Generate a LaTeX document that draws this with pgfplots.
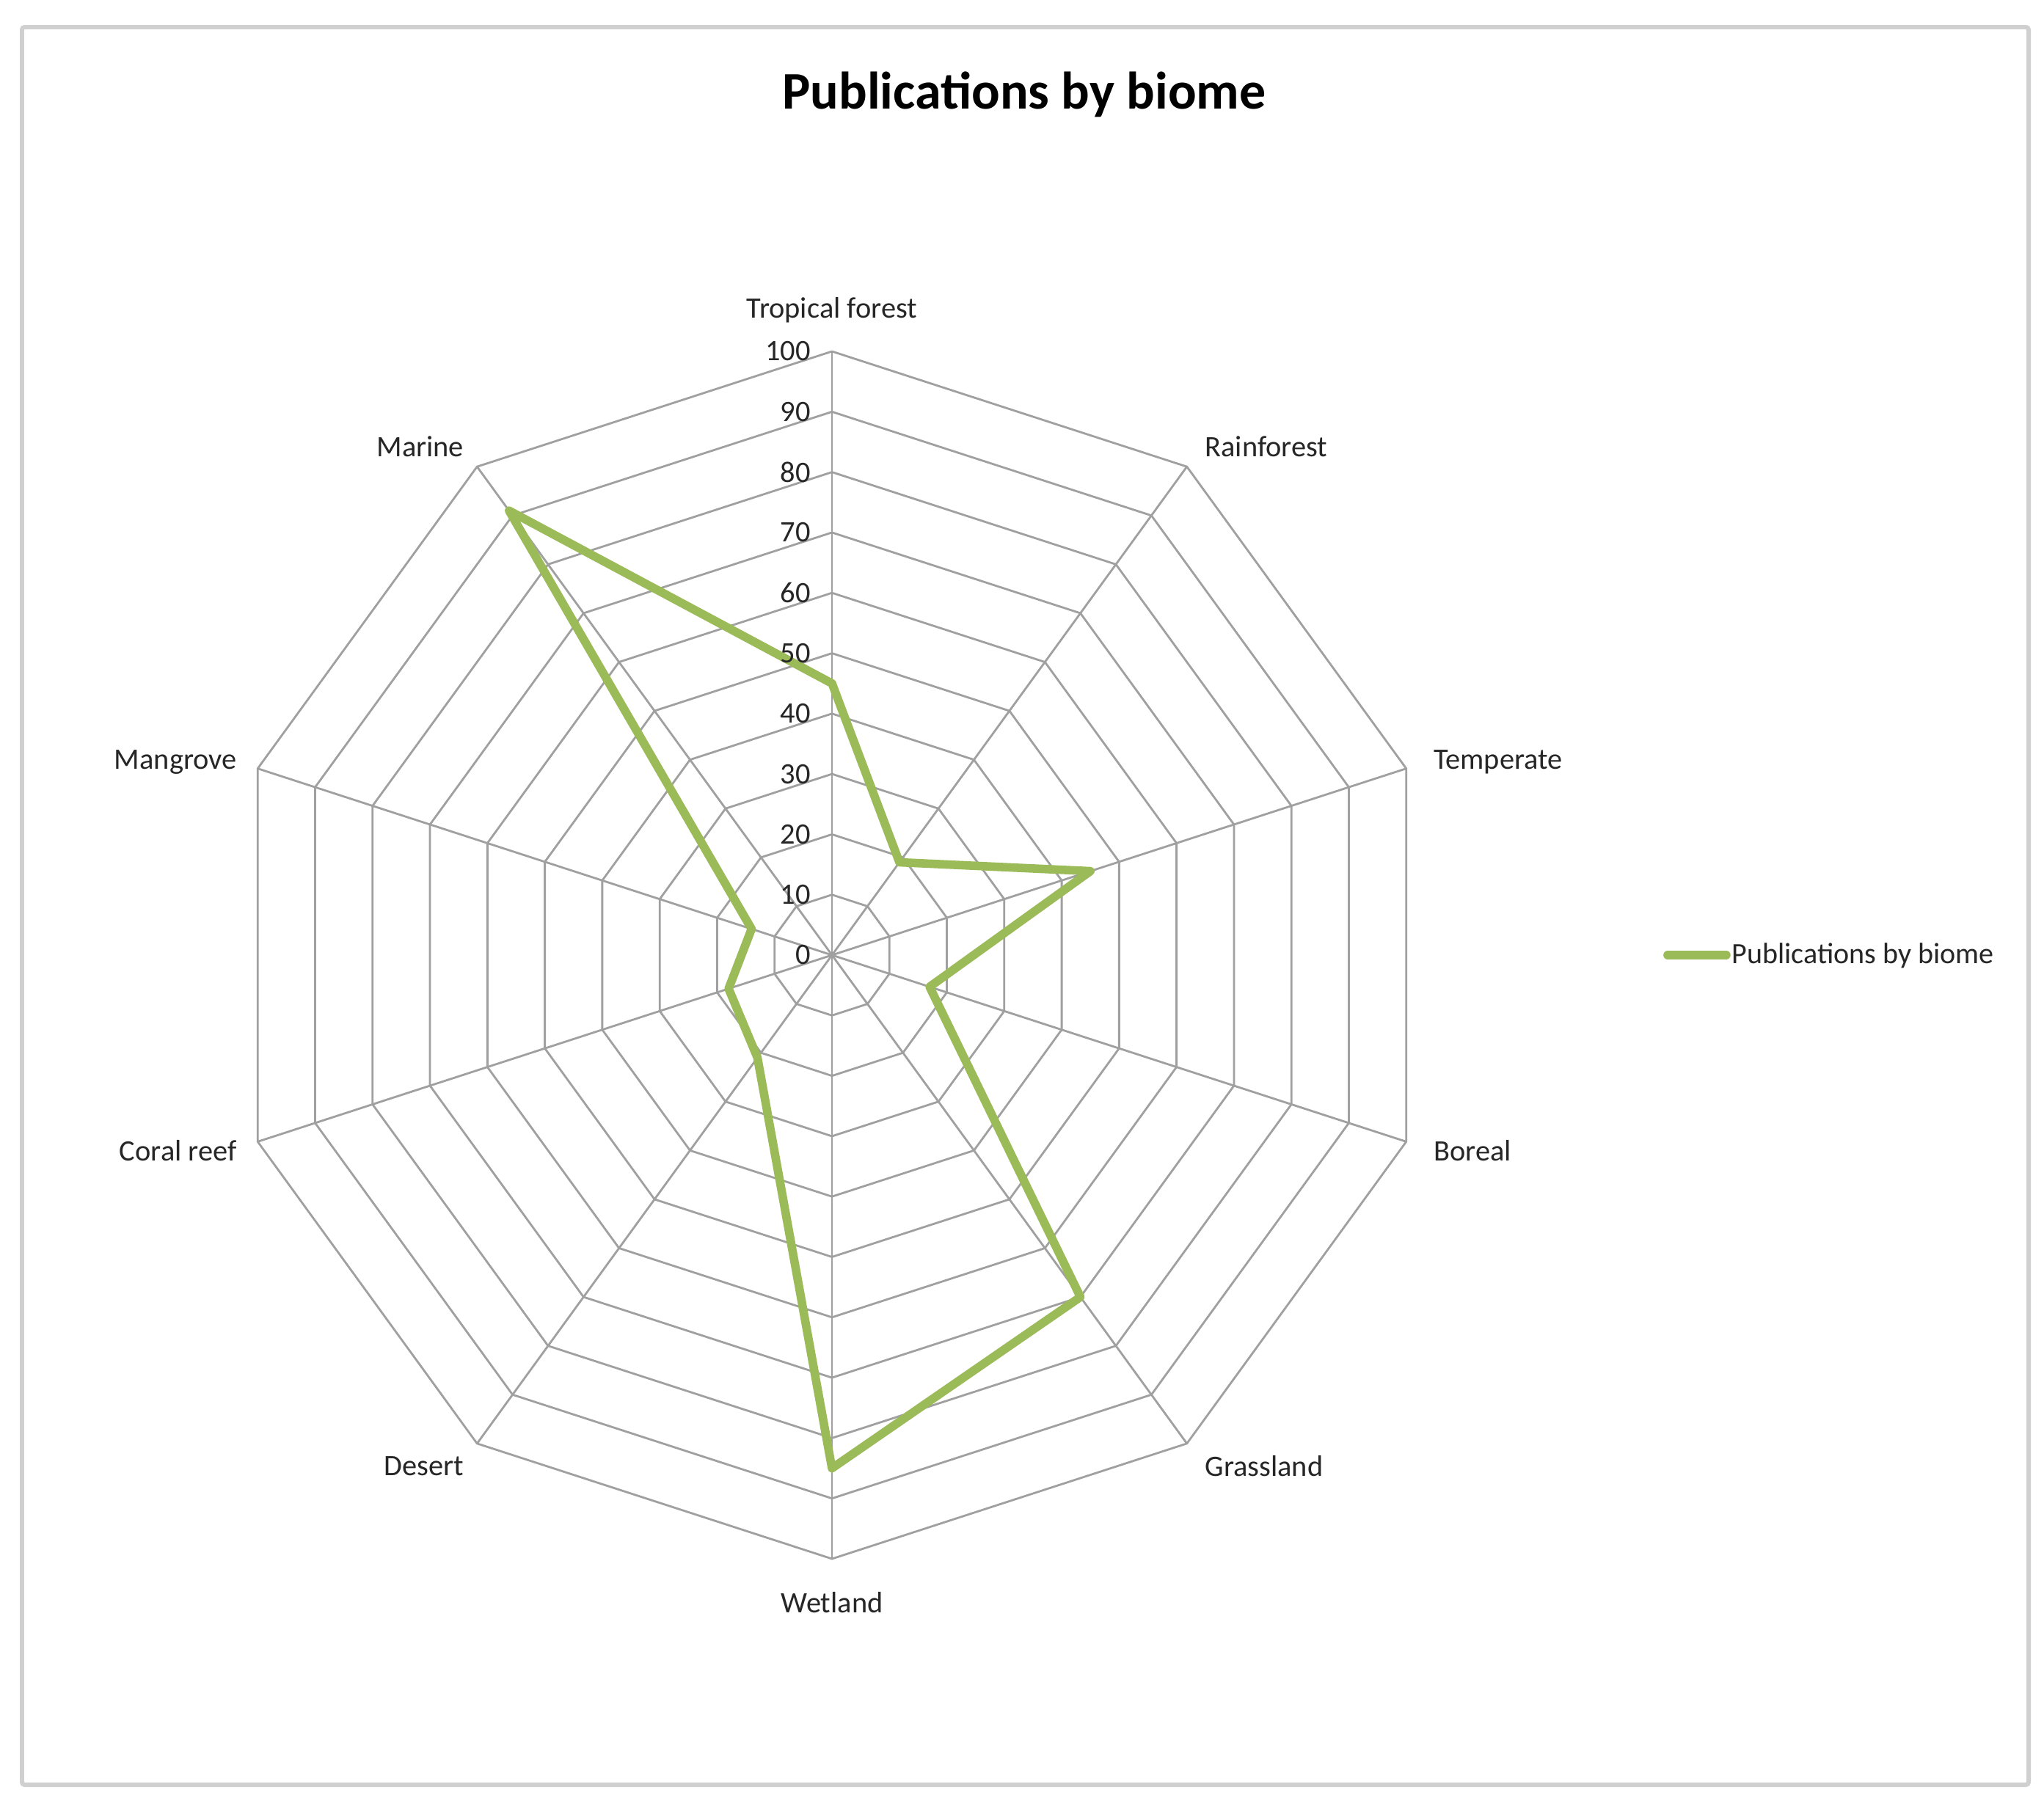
\documentclass[border=0pt]{standalone}
\usepackage{fontspec}
\setmainfont{Carlito}
\usepackage{pgfplots}
\pgfplotsset{compat=1.18}
\definecolor{biome}{HTML}{9BBB59}
\definecolor{gridc}{HTML}{A0A0A0}
\definecolor{framec}{HTML}{D0D0D0}
\tikzset{lbl/.style={font=\fontsize{11.5}{14}\selectfont, text=black!85}}
\begin{document}
\begin{tikzpicture}
% page extent and outer frame
\path (-11.34,-11.59) rectangle (16.52,13.02);
\draw[framec, line width=1.7pt, rounded corners=1pt] (-11.04,-11.31) rectangle (16.31,12.65);
\node[font=\fontsize{20.5}{24}\selectfont\bfseries, anchor=base] at (2.62,11.53) {Publications by biome};
\begin{axis}[
    at={(0,0)}, anchor=center,
    scale only axis, width=16.46cm, height=16.46cm,
    xmin=-100, xmax=100, ymin=-100, ymax=100,
    hide axis, clip=false,
    legend style={at={(1.188,0.5)}, anchor=west, draw=none, fill=none,
      inner sep=0pt, font=\fontsize{11.4}{13}\selectfont,
      nodes={inner xsep=0.5pt, text=black!85}},
    legend cell align=left,
    legend image code/.code={\draw[line width=3.3pt, line cap=round, #1] (0cm,0cm) -- (0.8cm,0cm);},
]
% spokes
\pgfplotsinvokeforeach{90,54,18,-18,-54,-90,-126,-162,162,126}{
  \addplot[gridc, line width=0.8pt, data cs=polar, forget plot] coordinates {(#1,0)(#1,100)};
}
% decagon rings
\pgfplotsinvokeforeach{10,20,30,40,50,60,70,80,90,100}{
  \addplot[gridc, line width=0.8pt, data cs=polar, forget plot] coordinates {
    (90,#1)(54,#1)(18,#1)(-18,#1)(-54,#1)(-90,#1)(-126,#1)(-162,#1)(162,#1)(126,#1)(90,#1)};
}
% data: Tropical forest, Rainforest, Temperate, Boreal, Grassland, Wetland, Desert, Coral reef, Mangrove, Marine
\addplot[biome, line width=3.3pt, line join=round, line cap=round, data cs=polar] coordinates {
  (90,45)(54,19)(18,45)(-18,17)(-54,70)(-90,85)(-126,21)(-162,18)(162,14)(126,91)(90,45)};
\addlegendentry{Publications by biome}
% radial tick labels
\pgfplotsinvokeforeach{0,10,20,30,40,50,60,70,80,90,100}{
  \node[lbl, anchor=east, inner sep=0pt] at (axis cs:-3.5,#1) {#1};
}
% category labels
\node[lbl, anchor=center] at (axis cs:0,106.8) {Tropical forest};
\node[lbl, anchor=west, inner sep=0pt] at (axis cs:61.7,84.2) {Rainforest};
\node[lbl, anchor=west, inner sep=0pt] at (axis cs:99.6,32.0) {Temperate};
\node[lbl, anchor=west, inner sep=0pt] at (axis cs:99.6,-32.4) {Boreal};
\node[lbl, anchor=west, inner sep=0pt] at (axis cs:61.7,-84.7) {Grassland};
\node[lbl, anchor=center] at (axis cs:0,-107.3) {Wetland};
\node[lbl, anchor=east, inner sep=0pt] at (axis cs:-60.9,-84.7) {Desert};
\node[lbl, anchor=east, inner sep=0pt] at (axis cs:-98.5,-32.4) {Coral reef};
\node[lbl, anchor=east, inner sep=0pt] at (axis cs:-98.5,32.0) {Mangrove};
\node[lbl, anchor=east, inner sep=0pt] at (axis cs:-60.9,84.2) {Marine};
\end{axis}
\end{tikzpicture}
\end{document}
